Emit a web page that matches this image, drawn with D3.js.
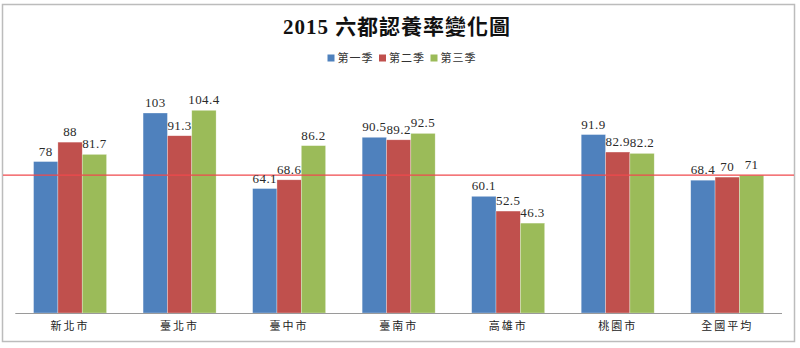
<!DOCTYPE html>
<html><head><meta charset="utf-8">
<script src="https://cdn.jsdelivr.net/npm/d3@7/dist/d3.min.js"></script>
<style>
body{margin:0;background:#fff;}
svg{display:block;}
</style></head>
<body>
<svg id="chart" width="800" height="348"></svg>
<script>
const title = "2015 六都認養率變化圖";
const categories = ["新北市","臺北市","臺中市","臺南市","高雄市","桃園市","全國平均"];
const seriesNames = ["第一季","第二季","第三季"];
const q1 = [78, 103, 64.1, 90.5, 60.1, 91.9, 68.4];
const q2 = [88, 91.3, 68.6, 89.2, 52.5, 82.9, 70];
const q3 = [81.7, 104.4, 86.2, 92.5, 46.3, 82.2, 71];
const colors = ["#4F81BD","#C0504D","#9BBB59"];
const refValue = 71;
const yDomain = [0, 120];

const series = [q1, q2, q3];
const svg = d3.select("#chart");
const serif = "'Liberation Serif','DejaVu Serif','Noto Sans CJK TC',serif";

// frame
svg.append("rect").attr("x",2.5).attr("y",4.5).attr("width",792).attr("height",337)
  .attr("fill","#fff").attr("stroke","#bcbcbc").attr("stroke-width",1.5);

const x0 = d3.scaleBand().domain(categories).range([15.3, 782]).paddingInner(1/3).paddingOuter(1/6);
const x1 = d3.scaleBand().domain(seriesNames).range([0, x0.bandwidth()]);
const y = d3.scaleLinear().domain(yDomain).range([313, 80]);

// title
svg.append("text").attr("x",397).attr("y",34).attr("text-anchor","middle")
  .attr("font-family",serif).attr("font-size",21).attr("font-weight","bold").attr("fill","#111")
  .attr("letter-spacing",1).text(title);

// legend
const legX = [327.5, 379, 430.5];
seriesNames.forEach((s,i)=>{
  svg.append("rect").attr("x",legX[i]).attr("y",54.5).attr("width",7).attr("height",7).attr("fill",colors[i]);
  svg.append("text").attr("x",legX[i]+10).attr("y",62).attr("font-family",serif).attr("font-size",11)
    .attr("fill","#333").attr("letter-spacing",1).text(s);
});

// bars
const g = svg.append("g");
categories.forEach((c,ci)=>{
  series.forEach((vals,si)=>{
    const v = vals[ci];
    g.append("rect").attr("x",x0(c)+x1(seriesNames[si])).attr("y",y(v))
      .attr("width",x1.bandwidth()).attr("height",y(0)-y(v)).attr("fill",colors[si])
      .attr("stroke","rgba(255,255,255,0.5)").attr("stroke-width",0.6);
  });
});

// axis
const xAxis = d3.axisBottom(x0).tickSize(0).tickPadding(9);
const ax = svg.append("g").attr("transform",`translate(0,${y(0)})`).call(xAxis);
ax.select(".domain").attr("stroke","#9a9a9a").attr("stroke-width",1).attr("d",`M15.3,0.5H782`);
ax.selectAll("text").attr("font-family",serif).attr("font-size",11).attr("fill","#222")
  .attr("letter-spacing",2).attr("dy","0.71em");

// reference line
svg.append("line").attr("x1",3).attr("x2",794).attr("y1",y(refValue)).attr("y2",y(refValue))
  .attr("stroke","#f0484c").attr("stroke-width",1.3);

// labels
categories.forEach((c,ci)=>{
  series.forEach((vals,si)=>{
    const v = vals[ci];
    svg.append("text").attr("x",x0(c)+x1(seriesNames[si])+x1.bandwidth()/2).attr("y",y(v)-6)
      .attr("text-anchor","middle").attr("font-family",serif).attr("font-size",13).attr("fill","#2a2a2a")
      .attr("letter-spacing",0.4).text(String(v));
  });
});
</script>
</body></html>
